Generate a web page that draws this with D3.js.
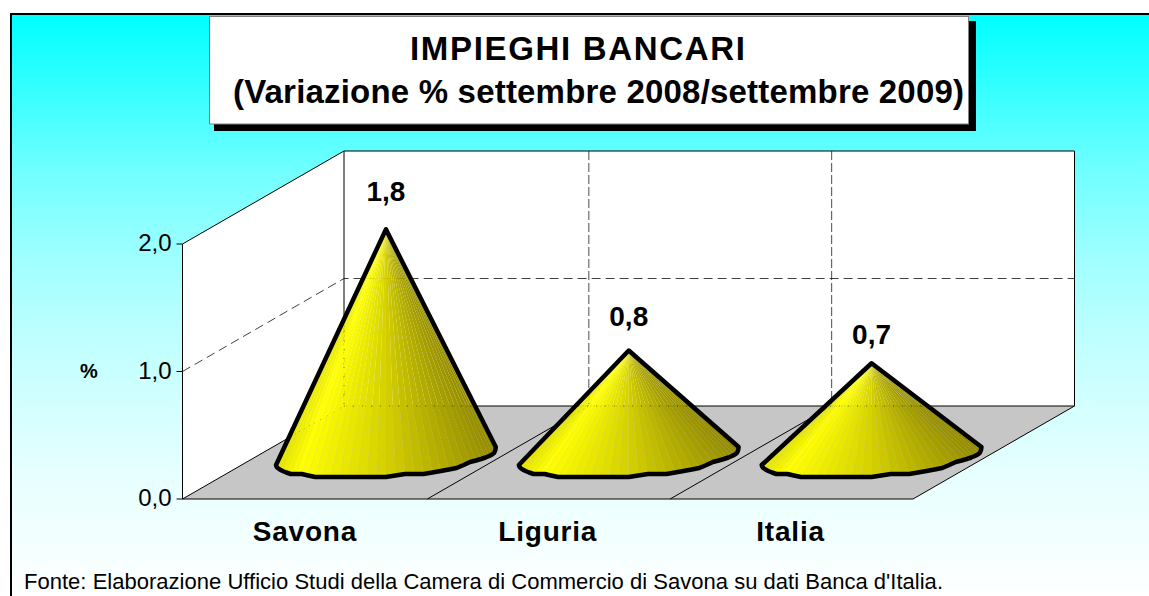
<!DOCTYPE html>
<html><head><meta charset="utf-8">
<script src="https://d3js.org/d3.v7.min.js"></script>
<style>html,body{margin:0;padding:0;background:#fff}svg{display:block}text{font-family:"Liberation Sans",Arial,sans-serif;fill:#000}</style>
</head><body><svg id="c" width="1149" height="596"></svg>
<script>
const categories = ["Savona", "Liguria", "Italia"];
const values = [1.75, 0.8, 0.7];
const yTicks = [0, 1, 2];
const titleLines = ["IMPIEGHI BANCARI", "(Variazione % settembre 2008/settembre 2009)"];
const sourceNote = "Fonte: Elaborazione Ufficio Studi della Camera di Commercio di Savona su dati Banca d'Italia.";
const unitLabel = "%";

const W = 1149, H = 596;
const svg = d3.select("#c");
const fmt = v => d3.format(".1f")(v).replace(".", ",");

// oblique 3D frame
const depth = {dx: 161.5, dy: -93};
const x = d3.scaleBand().domain(categories).range([184.5, 913]).padding(0);
const y = d3.scaleLinear().domain([0, 2]).range([499, 244]);
const line = d3.line();

const defs = svg.append("defs");
const grad = defs.append("linearGradient").attr("id", "bg").attr("gradientUnits", "userSpaceOnUse").attr("x1", 0).attr("x2", 0).attr("y1", 15).attr("y2", 596);
[[0, "#00ffff"], [.267, "#70ffff"], [.42, "#a0ffff"], [.56, "#c0ffff"], [.783, "#e6ffff"], [1, "#ffffff"]].forEach(([o, c]) => {
  grad.append("stop").attr("offset", o).attr("stop-color", c);
});

// background
svg.append("rect").attr("x", 11).attr("y", 15).attr("width", W - 11).attr("height", H - 15).attr("fill", "url(#bg)");
svg.append("path").attr("d", `M11,${H}V14H${W}`).attr("fill", "none").attr("stroke", "#000").attr("stroke-width", 2);

// title
svg.append("rect").attr("x", 214).attr("y", 21).attr("width", 762).attr("height", 110).attr("fill", "#000");
svg.append("rect").attr("x", 209.5).attr("y", 16.5).attr("width", 759).attr("height", 107.5).attr("fill", "#fff").attr("stroke", "#808080");
svg.append("text").attr("x", 410).attr("y", 60).attr("font-size", 33).attr("font-weight", 700).attr("textLength", 335).attr("lengthAdjust", "spacing").text(titleLines[0]);
svg.append("text").attr("x", 233).attr("y", 103).attr("font-size", 33).attr("font-weight", 700).attr("textLength", 731).attr("lengthAdjust", "spacing").text(titleLines[1]);

// walls
const x0 = 182.5, x1 = x.range()[1];
const yTop = y(2), yBot = y(0);
const P = (px, py, d = 1) => [px + depth.dx * d, py + depth.dy * d];
const wall = svg.append("g");
wall.append("path").attr("d", line([[x0, yTop], P(x0, yTop), P(x1, yTop), P(x1, yBot), P(x0, yBot), [x0, yBot]]) + "Z").attr("fill", "#fff");
// floor
wall.append("path").attr("d", line([[x0, yBot], [x1, yBot], P(x1, yBot), P(x0, yBot)]) + "Z").attr("fill", "#c6c6c6");

// gridlines
const gridTicks = yTicks.slice(1, -1);
gridTicks.forEach(t => {
  wall.append("path").attr("d", line([[x0, y(t)], P(x0, y(t)), P(x1, y(t))])).attr("fill", "none").attr("stroke", "#000").attr("stroke-width", 1).attr("stroke-dasharray", "9 5").attr("opacity", .75);
});
x.domain().slice(1).forEach(c => {
  const fx = x(c);
  wall.append("path").attr("d", line([P(fx, yTop), P(fx, yBot)])).attr("fill", "none").attr("stroke", "#000").attr("stroke-dasharray", "9 3").attr("opacity", .7);
  wall.append("path").attr("d", line([[fx, yBot], P(fx, yBot)])).attr("fill", "none").attr("stroke", "#000");
});
// frame
wall.append("path").attr("d", line([[x0, yBot], [x0, yTop], P(x0, yTop), P(x1, yTop), P(x1, yBot), [x1, yBot], [x0, yBot], P(x0, yBot), P(x0, yTop)])).attr("fill", "none").attr("stroke", "#000");
wall.append("path").attr("d", line([P(x0, yBot), P(x1, yBot)])).attr("fill", "none").attr("stroke", "#000");

// axis ticks + labels
yTicks.forEach(t => {
  svg.append("path").attr("d", `M${x0 - 6},${y(t)}H${x0}`).attr("stroke", "#000");
  svg.append("text").attr("x", x0 - 11).attr("y", y(t) + 7).attr("text-anchor", "end").attr("font-size", 24).text(fmt(t));
});
svg.append("text").attr("x", 89).attr("y", 378).attr("text-anchor", "middle").attr("font-size", 20).attr("font-weight", 700).text(unitLabel);

// cones
const shade = d3.scaleLinear().domain([0, .1, .5, 1]).range(["#e4e400", "#ffff00", "#d4d000", "#948c00"]);
const rA = 103, rB = 44, ux = 0.87, uy = 0.5, baseDrop = 3.5, steps = 36, q = 3;
const labelRise = [28, 25, 19];
const cones = svg.append("g");
values.forEach((v, i) => {
  const c = categories[i];
  const fc = x(c) + x.bandwidth() / 2;
  const cx = fc + depth.dx / 2 - .75, base = yBot + depth.dy / 2;
  const apex = [cx, y(v) + depth.dy / 2];
  const tR = Math.atan2(rB * ux, rA);
  const tL = tR - Math.PI;
  const raw = d3.range(steps + 1).map(k => {
    const t = tL + (tR - tL) * k / steps;
    const px = cx + rA * Math.cos(t) + rB * ux * Math.sin(t);
    const py = base + baseDrop - rB * uy * Math.sin(t);
    return [px, py];
  });
  // coarse quantised outline, as in the low-resolution original
  const coarse = raw.map(p => [p[0], Math.round(p[1] / q) * q]);
  const pts = coarse.map((p, k) => {
    if (k % 2 === 0) return p;
    return [p[0], (coarse[k - 1][1] + (coarse[k + 1] || coarse[k - 1])[1]) / 2];
  });
  const g = cones.append("g");
  const span = pts[steps][0] - pts[0][0];
  d3.pairs(pts).forEach(([a, b]) => {
    const f = ((a[0] + b[0]) / 2 - pts[0][0]) / span;
    g.append("path").attr("d", line([apex, a, b]) + "Z").attr("fill", shade(f));
  });
  // faint trace of the frame showing through the cone
  const outlineD = line([apex, ...pts]) + "Z";
  const clipId = "cone" + i;
  defs.append("clipPath").attr("id", clipId).append("path").attr("d", outlineD);
  const trace = g.append("g").attr("clip-path", `url(#${clipId})`);
  trace.append("path").attr("d", line([P(x0, yBot), P(x1, yBot)])).attr("stroke", "#000").attr("stroke-dasharray", "1 8").attr("opacity", .45);
  const backX = i === 0 ? x0 : x(c);
  trace.append("path").attr("d", line([P(backX, yTop), P(backX, yBot)])).attr("stroke", "#000").attr("stroke-dasharray", "1 8").attr("opacity", .45);
  g.append("path").attr("d", outlineD).attr("fill", "none").attr("stroke", "#000").attr("stroke-width", 4.5).attr("stroke-linejoin", "round");
  svg.append("text").attr("x", cx).attr("y", apex[1] - labelRise[i]).attr("text-anchor", "middle").attr("font-size", 28).attr("font-weight", 700).text(fmt(v));
  svg.append("text").attr("x", fc - 1).attr("y", 541).attr("text-anchor", "middle").attr("font-size", 28).attr("font-weight", 700).attr("letter-spacing", .8).text(c);
});

svg.append("text").attr("x", 24).attr("y", 589).attr("font-size", 22).attr("textLength", 919).attr("lengthAdjust", "spacing").text(sourceNote);
</script></body></html>
